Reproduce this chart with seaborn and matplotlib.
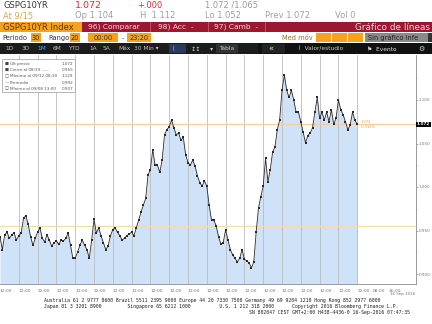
import numpy as np
import pandas as pd
import matplotlib
matplotlib.use("Agg")
import matplotlib.pyplot as plt
from matplotlib.patches import Rectangle
import seaborn as sns

# ---------------- data ----------------
prices = [
    0.943, 0.928, 0.945, 0.948, 0.941, 0.945, 0.947, 0.939, 0.944, 0.947,
    0.964, 0.967, 0.957, 0.943, 0.933, 0.941, 0.948, 0.953, 0.941, 0.937,
    0.945, 0.939, 0.932, 0.936, 0.938, 0.934, 0.939, 0.938, 0.941, 0.947,
    0.933, 0.918, 0.918, 0.925, 0.933, 0.939, 0.933, 0.928, 0.918, 0.939,
    0.963, 0.947, 0.953, 0.944, 0.936, 0.928, 0.932, 0.944, 0.951, 0.953,
    0.948, 0.944, 0.939, 0.941, 0.944, 0.946, 0.948, 0.944, 0.953, 0.962,
    0.971, 0.979, 0.987, 1.014, 1.020, 1.043, 1.025, 1.025, 1.017, 1.031,
    1.060, 1.066, 1.069, 1.077, 1.068, 1.060, 1.062, 1.054, 1.057, 1.037,
    1.028, 1.025, 1.031, 1.024, 1.013, 1.005, 1.001, 1.007, 1.001, 0.979,
    0.962, 0.962, 0.955, 0.943, 0.934, 0.936, 0.951, 0.939, 0.928, 0.922,
    0.918, 0.914, 0.918, 0.928, 0.917, 0.915, 0.913, 0.907, 0.914, 0.948,
    0.976, 0.989, 1.001, 1.033, 1.006, 1.020, 1.040, 1.046, 1.066, 1.077,
    1.111, 1.129, 1.111, 1.103, 1.111, 1.100, 1.086, 1.086, 1.075, 1.063,
    1.051, 1.059, 1.062, 1.068, 1.086, 1.103, 1.079, 1.086, 1.077, 1.086,
    1.075, 1.089, 1.072, 1.079, 1.100, 1.089, 1.083, 1.075, 1.066, 1.071,
    1.086, 1.077, 1.072,
]
day_tick_labels = ["12:00"] * 20
end_tick_labels = ["08:00", "16:00"]
y_ticks = [0.900, 0.950, 1.000, 1.050, 1.100]
last_price = 1.072
prev_close = 0.955
legend_rows = [
    ("■", "Últ precio", "1.072"),
    ("■", "Cierre al 08/19 -----", "0.955"),
    ("□", "Máximo al 09/12 08:30", "1.129"),
    ("—", "Promedio", "0.992"),
    ("□", "Mínimo al 09/08 13:00", "0.907"),
]

df = pd.DataFrame({"idx": np.arange(len(prices)), "price": prices})

W, H = 432, 324
sns.set_style("white")
plt.rcParams["font.family"] = ["DejaVu Sans"]
fig = plt.figure(figsize=(W / 100, H / 100), dpi=100)
fig.patch.set_facecolor("white")


def rect(x0, y0, x1, y1, color, ec="none", lw=0, z=1):
    fig.add_artist(Rectangle((x0 / W, 1 - y1 / H), (x1 - x0) / W, (y1 - y0) / H,
                             transform=fig.transFigure, facecolor=color,
                             edgecolor=ec, lw=lw, zorder=z))


def txt(x, y, s, size=5, color="black", ha="left", z=5, **kw):
    fig.text(x / W, 1 - y / H, s, fontsize=size, color=color, ha=ha, va="center",
             zorder=z, **kw)


# ---------------- header ----------------
txt(3, 5, "GSPG10YR", 6.0, "#3a3a3a")
txt(75, 5, "1.072", 6.8, "#d0303a")
txt(137, 5, "+.000", 6.0, "#d0303a")
txt(205, 5, "1.072 /1.065", 6.0, "#9a9a9a")
txt(3, 16, "At 9/15", 6.0, "#d9a45a")
txt(75, 16, "Op 1.104", 6.0, "#a0a0a0")
txt(140, 16, "H  1.112", 6.0, "#a0a0a0")
txt(205, 16, "Lo 1.052", 6.0, "#a0a0a0")
txt(265, 16, "Prev 1.072", 6.0, "#a0a0a0")
txt(335, 16, "Vol 0", 6.0, "#a0a0a0")

rect(0, 22, 82, 32, "#f5a21e")
txt(3, 27, "GSPG10YR Index", 6.0, "#6b3500")
rect(82, 22, 432, 32, "#9c1830")
for xs in (150, 208, 265):
    rect(xs, 22, xs + 1, 32, "#c05060")
txt(88, 27, "96) Comparar", 5.4, "#f2d6da")
txt(158, 27, "98) Acc  -", 5.4, "#f2d6da")
txt(214, 27, "97) Camb  -", 5.4, "#f2d6da")
txt(430, 27, "Gráfico de líneas", 6.4, "#f2d6da", ha="right")

txt(2, 38, "Periodo", 4.8, "#333333")
rect(31, 33, 41, 42, "#f5a21e")
txt(36, 38, "30", 4.8, "#333333", ha="center")
txt(48, 38, "Rango", 4.8, "#333333")
rect(70, 33, 80, 42, "#f5a21e")
txt(75, 38, "20", 4.8, "#333333", ha="center")
rect(88, 33, 118, 42, "#f5a21e")
txt(103, 38, "00:00", 4.8, "#333333", ha="center")
txt(123, 38, "-", 4.8, "#333333", ha="center")
rect(127, 33, 151, 42, "#f5a21e")
txt(139, 38, "23:20", 4.8, "#333333", ha="center")
txt(282, 38, "Med móv", 4.8, "#9a6a2a")
for bx in (316, 332, 348):
    rect(bx, 33, bx + 15, 42, "#f5a21e")
rect(365, 33, 428, 42, "#8a8a8a")
txt(368, 38, "Sin gráfico infe", 4.8, "#202020")
rect(428, 33, 432, 42, "#333333")

rect(0, 43, 432, 54, "#111111")
rect(0, 43, 258, 54, "#1c1c1c")
btns = [(3, "1D"), (20, "3D"), (35, "1M"), (51, "6M"), (66, "YTD"), (87, "1A"),
        (101, "5A"), (116, "Máx"), (132, "30 Min ▾")]
for bx, lab in btns:
    col = "#5aa0ff" if lab == "1M" else "#bdbdbd"
    txt(bx + 2, 49, lab, 4.2, col)
rect(169, 44, 186, 53, "#2a3a5a")
txt(172, 49, "⌇", 5, "#7fb0ff")
txt(191, 49, "↕↕", 4.5, "#cccccc")
txt(210, 49, "▾", 4.5, "#cccccc")
rect(216, 44, 238, 53, "#333333")
txt(219, 49, "Tabla", 4.2, "#cccccc")
rect(262, 44, 285, 53, "#222222")
txt(268, 49, "«", 6, "#dddddd")
txt(298, 49, "⌇  Valor/estudio", 4.2, "#cccccc")
txt(367, 49, "⚑  Evento", 4.2, "#dddddd")
txt(418, 49, "⚙", 5, "#cccccc")

# ---------------- chart ----------------
px_per_idx = 18.8 / 8.0
top_px, bot_px = 55, 284
ax = fig.add_axes([0, (H - bot_px) / H, 416 / W, (bot_px - top_px) / H])
ymin = 1.0 - (bot_px - 187) / 870.0
ymax = 1.0 + (187 - top_px) / 870.0
ax.set_ylim(ymin, ymax)
ax.set_xlim(0, 416 / px_per_idx)

ax.fill_between(df["idx"], df["price"], ymin, color="#cfe2f8", lw=0, zorder=1)
day_ticks = np.arange(0, 8 * len(day_tick_labels), 8)[:20]
for t in day_ticks[1:]:
    ax.axvline(t, color="#b9bcc2", lw=0.6, zorder=1.5)
ax.axhline(last_price, color="#f3cf9a", lw=0.9, zorder=1.6)
ax.axhline(prev_close, color="#f3dcae", lw=0.9, zorder=1.6)
sns.lineplot(data=df, x="idx", y="price", ax=ax, color="#2a2a2a", lw=0.6,
             marker="s", markersize=1.6, markeredgewidth=0, zorder=3)
ax.set_xlabel("")
ax.set_ylabel("")

end_ticks = [373 / px_per_idx, 389 / px_per_idx]
ax.set_xticks(list(day_ticks) + end_ticks)
ax.set_xticklabels(day_tick_labels + end_tick_labels, ha="left", fontsize=3.2,
                   color="#777777")
ax.tick_params(axis="x", length=2.5, width=0.4, color="#999999", pad=0.8, direction="out")

ax.yaxis.tick_right()
ax.set_yticks(y_ticks)
ax.set_yticklabels([f"{v:.3f}" for v in y_ticks], fontsize=3.0, color="#777777")
ax.set_yticks([0.925, 0.975, 1.025, 1.075, 1.125], minor=True)
ax.tick_params(axis="y", which="major", length=1.5, width=0.4, color="#777777", pad=0.5)
ax.tick_params(axis="y", which="minor", length=1.0, width=0.4, color="#999999")
for s in ("top", "left"):
    ax.spines[s].set_visible(False)
for s in ("right", "bottom"):
    ax.spines[s].set_color("#8a8a8a")
    ax.spines[s].set_linewidth(0.6)
ax.set_facecolor("white")

# last price tag
ax.text(1.002, last_price, "1.072", transform=ax.get_yaxis_transform(), fontsize=3.0,
        color="white", va="center", ha="left", fontweight="bold",
        bbox=dict(boxstyle="square,pad=0.15", fc="black", ec="none"))
ax.text(len(prices) + 0.5, last_price + 0.0005, "1.072", fontsize=2.6, color="#e0a050",
        va="bottom", ha="left")
ax.text(len(prices) + 0.5, last_price - 0.001, "-0.316%", fontsize=2.6, color="#e0a050",
        va="top", ha="left")
txt(390, 294.5, "16 Sep 2016", 2.9, "#777777")

# legend box
rect(2, 59, 75, 92, "white", ec="#9a9a9a", lw=0.5, z=6)
for k, (mk, lab, val) in enumerate(legend_rows):
    yy = 64 + k * 6.2
    txt(5, yy, mk, 3.0, "#444444", z=7)
    txt(10, yy, lab, 3.0, "#555555", z=7)
    txt(73, yy, val, 3.0, "#555555", ha="right", z=7)

# footer
mono = "DejaVu Sans Mono"
txt(44, 300.5, "Australia 61 2 9777 8600 Brazil 5511 2395 9000 Europe 44 20 7330 7500 "
    "Germany 49 69 9204 1210 Hong Kong 852 2977 6000", 3.55, "#222222", family=mono)
txt(44, 306.5, "Japan 81 3 3201 8900         Singapore 65 6212 1000          "
    "U.S. 1 212 318 2000", 3.55, "#222222", family=mono)
txt(398, 306.5, "Copyright 2016 Bloomberg Finance L.P.", 3.55, "#222222", ha="right",
    family=mono)
txt(410, 312.5, "SN 802047 CEST GMT+2:00 H438-4436-0 16-Sep-2016 07:47:35", 3.55,
    "#222222", ha="right", family=mono)

fig.savefig("out.png", dpi=100)
